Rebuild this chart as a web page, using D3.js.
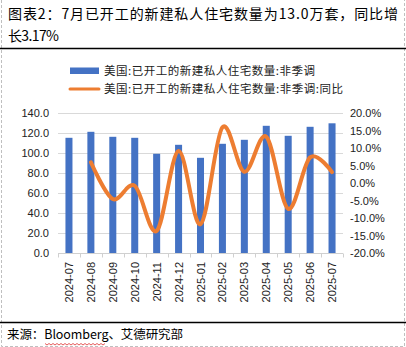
<!DOCTYPE html>
<html><head><meta charset="utf-8">
<script src="https://cdn.jsdelivr.net/npm/d3@7"></script>
<style>
html,body{margin:0;padding:0;background:#fff;}
svg{display:block;}
</style></head>
<body>
<svg id="c" width="406" height="347"></svg>
<script>
const categories = ["2024-07","2024-08","2024-09","2024-10","2024-11","2024-12","2025-01","2025-02","2025-03","2025-04","2025-05","2025-06","2025-07"];
const starts = [115.5,121.5,116.5,115.5,99.5,108.5,95.5,109.5,113.5,127.5,117.5,126.5,130.0];
const yoy = [null,6.0,-4.5,-0.7,-13.6,9.2,-11.7,16.0,3.3,13.3,-7.3,7.4,3.17];
const leftTicks = [0,20,40,60,80,100,120,140];
const rightTicks = [-20,-15,-10,-5,0,5,10,15,20];
const titleLines = ["图表2：7月已开工的新建私人住宅数量为13.0万套，同比增","长3.17%"];
const legendLabels = ["美国:已开工的新建私人住宅数量:非季调","美国:已开工的新建私人住宅数量:非季调:同比"];
const sourceText = "来源：Bloomberg、艾德研究部";

const svg = d3.select("#c");
const cjk = "'Noto Sans CJK SC','Noto Sans',sans-serif";
const latin = "'Liberation Sans',Arial,sans-serif";
const BLUE="#4472C4", ORANGE="#ED7D31";

// border (dashed)
svg.append("path").attr("d","M1.5,0V346.5H404.5V0").attr("fill","none")
  .attr("stroke","#bfbfbf").attr("stroke-dasharray","3,2").attr("stroke-width",1);

// title
svg.append("text").attr("x",8).attr("y",19).attr("font-family",cjk).attr("font-size",14)
  .attr("textLength",390).attr("lengthAdjust","spacing").text(titleLines[0]);
svg.append("text").attr("x",8).attr("y",41).attr("font-family",cjk).attr("font-size",14)
  .attr("textLength",51).attr("lengthAdjust","spacing").text(titleLines[1]);
svg.append("line").attr("x1",0).attr("x2",406).attr("y1",48.5).attr("y2",48.5).attr("stroke","#000").attr("stroke-width",1.5);
svg.append("line").attr("x1",0).attr("x2",406).attr("y1",322.5).attr("y2",322.5).attr("stroke","#000").attr("stroke-width",1.5);

// legend
svg.append("rect").attr("x",70).attr("y",67.5).attr("width",29).attr("height",6.5).attr("fill",BLUE);
svg.append("line").attr("x1",70).attr("x2",99).attr("y1",89).attr("y2",89).attr("stroke",ORANGE).attr("stroke-width",3).attr("stroke-linecap","round");
svg.append("text").attr("x",104).attr("y",75).attr("font-family",cjk).attr("font-size",11.5)
  .attr("textLength",211).attr("lengthAdjust","spacing").attr("fill","#222").text(legendLabels[0]);
svg.append("text").attr("x",104).attr("y",93).attr("font-family",cjk).attr("font-size",11.5)
  .attr("textLength",239).attr("lengthAdjust","spacing").attr("fill","#222").text(legendLabels[1]);

// scales
const x = d3.scaleBand().domain(categories).range([58,343]).paddingInner(0.68).paddingOuter(0.34);
const yL = d3.scaleLinear().domain([0,140]).range([253.3,113.3]);
const yR = d3.scaleLinear().domain([-20,20]).range([253.3,113.3]);

// gridlines
svg.append("g").selectAll("line").data(leftTicks.slice(1)).join("line")
  .attr("x1",58).attr("x2",343).attr("y1",d=>Math.round(yL(d))+0.5).attr("y2",d=>Math.round(yL(d))+0.5)
  .attr("stroke","#d9d9d9").attr("stroke-width",1);

// bars
svg.append("g").selectAll("rect").data(starts).join("rect")
  .attr("x",(d,i)=>x(categories[i])).attr("width",x.bandwidth())
  .attr("y",d=>yL(d)).attr("height",d=>yL(0)-yL(d)).attr("fill",BLUE);

// x axis
const step = x.step();
const axisY = Math.round(yL(0))+0.5;
svg.append("line").attr("x1",58).attr("x2",343).attr("y1",axisY).attr("y2",axisY).attr("stroke","#d0d0d0");
svg.append("g").selectAll("line").data(d3.range(categories.length+1)).join("line")
  .attr("x1",i=>Math.round(58+i*step)+0.5).attr("x2",i=>Math.round(58+i*step)+0.5)
  .attr("y1",axisY).attr("y2",axisY+4).attr("stroke","#d0d0d0");
svg.append("g").selectAll("text").data(categories).join("text")
  .attr("transform",d=>`translate(${x(d)+x.bandwidth()/2+4},262) rotate(-90)`)
  .attr("text-anchor","end").attr("font-family",latin).attr("font-size",11).attr("fill","#222").text(d=>d);

// left axis labels
svg.append("g").selectAll("text").data(leftTicks).join("text")
  .attr("x",49).attr("y",d=>yL(d)+4).attr("text-anchor","end")
  .attr("font-family",latin).attr("font-size",11).attr("fill","#222").text(d=>d3.format(".1f")(d));
// right axis labels
svg.append("g").selectAll("text").data(rightTicks).join("text")
  .attr("x",350).attr("y",d=>yR(d)+4).attr("text-anchor","start")
  .attr("font-family",latin).attr("font-size",11).attr("fill","#222")
  .text(d=>(d<0?"-":"")+Math.abs(d).toFixed(1)+"%");

// line
const pts = yoy.map((v,i)=>({c:categories[i],v})).filter(d=>d.v!==null);
const line = d3.line().x(d=>x(d.c)+x.bandwidth()/2).y(d=>yR(d.v)).curve(d3.curveCardinal.tension(0));
svg.append("path").datum(pts).attr("d",line).attr("fill","none").attr("stroke",ORANGE)
  .attr("stroke-width",4).attr("stroke-linecap","round").attr("stroke-linejoin","round");

// source
svg.append("text").attr("x",7).attr("y",339).attr("font-family",cjk).attr("font-size",12.5)
  .attr("textLength",176).attr("lengthAdjust","spacing").text(sourceText);
// spell-check squiggle under Bloomberg
let zz="M45,343.5"; for(let xx=45, k=0; xx<105; xx+=2, k++){ zz+=`L${xx+2},${k%2?343.5:345}`; }
svg.append("path").attr("d",zz).attr("fill","none").attr("stroke","#e03030").attr("stroke-width",0.8);
</script>
</body></html>
